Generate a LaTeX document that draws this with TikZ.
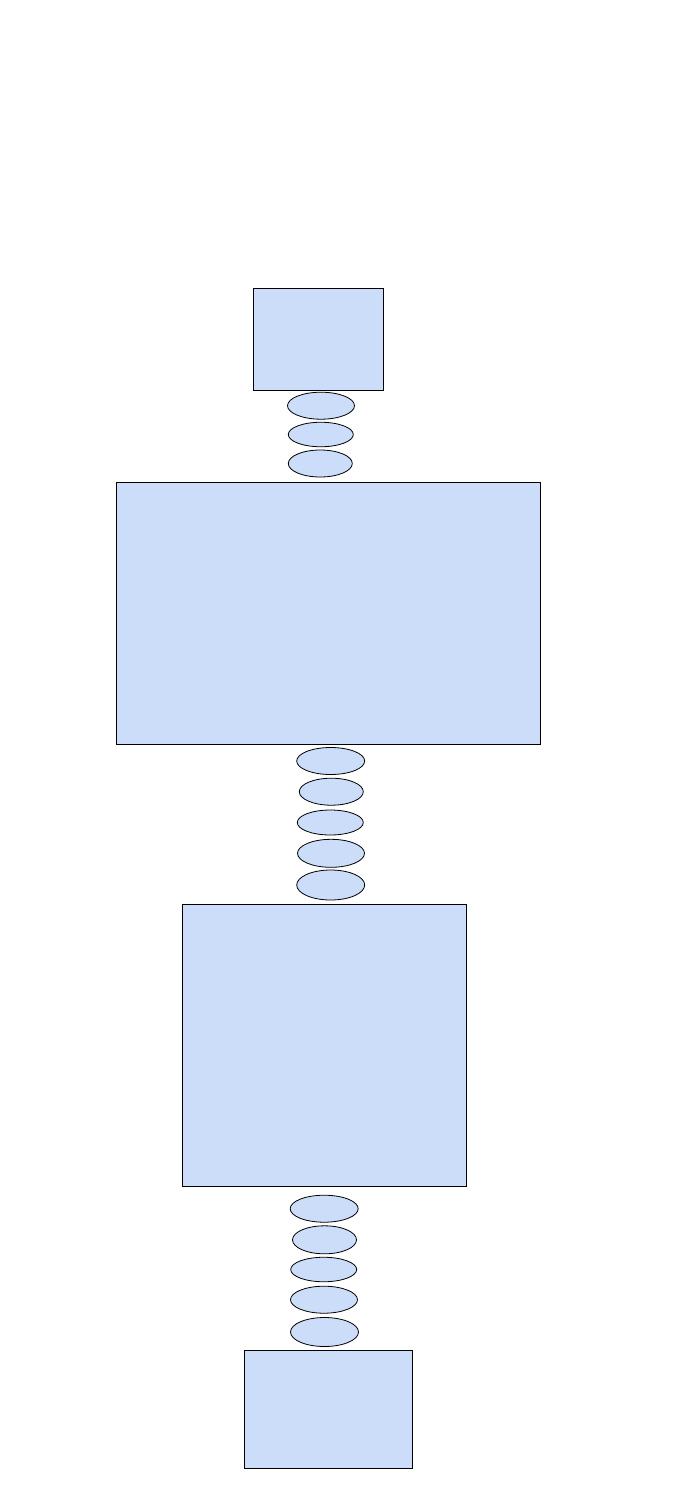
\documentclass[tikz,border=0pt]{standalone}
\usetikzlibrary{shapes.geometric}
\definecolor{boxfill}{RGB}{204,221,250}
\begin{document}
\begin{tikzpicture}[x=1pt,y=-1pt,
  blk/.style={draw=black,fill=boxfill,line width=0.8pt,rectangle,inner sep=0pt,outer sep=0pt},
  ring/.style={draw=black,fill=boxfill,line width=0.8pt,ellipse,inner sep=0pt,outer sep=0pt}]
\useasboundingbox[fill=white] (0,0) rectangle (700,1500);
% rectangles (centre, width x height)
\node[blk,minimum width=130pt,minimum height=102pt] (r1) at (318,339) {};
\node[blk,minimum width=424pt,minimum height=262pt] (r2) at (328,613) {};
\node[blk,minimum width=284pt,minimum height=282pt] (r3) at (324,1045) {};
\node[blk,minimum width=168pt,minimum height=118pt] (r4) at (328,1409) {};
% group 1
\node[ring,minimum width=67pt,minimum height=27pt] (a1) at (321,405.7) {};
\node[ring,minimum width=65pt,minimum height=24.5pt] (a2) at (320.8,434.5) {};
\node[ring,minimum width=64pt,minimum height=27pt] (a3) at (320.3,463.5) {};
% group 2
\node[ring,minimum width=68pt,minimum height=27pt] (b1) at (330.7,761) {};
\node[ring,minimum width=64pt,minimum height=27pt] (b2) at (331.3,791.7) {};
\node[ring,minimum width=66pt,minimum height=25pt] (b3) at (330.3,822.5) {};
\node[ring,minimum width=67pt,minimum height=28pt] (b4) at (331,853.3) {};
\node[ring,minimum width=68pt,minimum height=30pt] (b5) at (330.7,885) {};
% group 3
\node[ring,minimum width=68pt,minimum height=27pt] (c1) at (324.2,1208.7) {};
\node[ring,minimum width=64pt,minimum height=28pt] (c2) at (324.5,1239.8) {};
\node[ring,minimum width=66pt,minimum height=24.5pt] (c3) at (323.7,1269.5) {};
\node[ring,minimum width=67pt,minimum height=27pt] (c4) at (324,1299.7) {};
\node[ring,minimum width=68pt,minimum height=29pt] (c5) at (324.5,1332) {};
\end{tikzpicture}
\end{document}
